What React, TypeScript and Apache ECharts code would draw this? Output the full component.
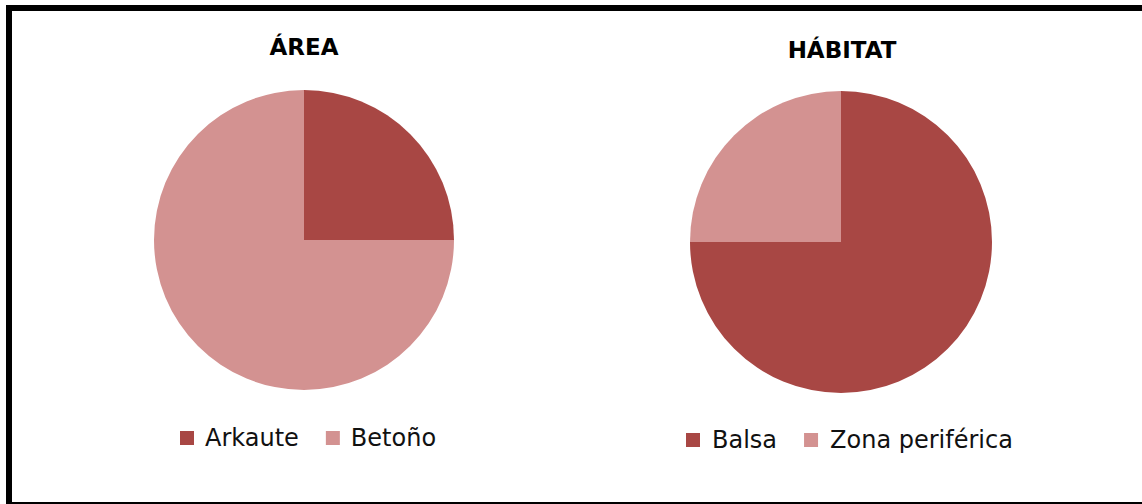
import React, { useEffect, useRef } from "react";
import * as echarts from "echarts";

const areaCategories = ["Arkaute", "Betoño"];
const areaValues = [25, 75];
const habitatCategories = ["Balsa", "Zona periférica"];
const habitatValues = [75, 25];
const titles = ["ÁREA", "HÁBITAT"];
const colors = ["#A84744", "#D39291"];

export default function App() {
  const ref = useRef<HTMLDivElement>(null);
  useEffect(() => {
    document.body.style.margin = "0";
    const chart = echarts.init(ref.current!, null, { renderer: "svg" });
    const font = "'DejaVu Sans', sans-serif";
    const legendText = { fontFamily: font, fontSize: 24, color: "#111", padding: [0, 0, 0, 6] };
    chart.setOption({
      animation: false,
      backgroundColor: "#ffffff",
      title: [
        {
          text: titles[0],
          left: 299,
          top: 30,
          textAlign: "center",
          textStyle: { fontFamily: font, fontWeight: "bold", fontSize: 23, color: "#000" },
        },
        {
          text: titles[1],
          left: 837,
          top: 33,
          textAlign: "center",
          textStyle: { fontFamily: font, fontWeight: "bold", fontSize: 23, color: "#000" },
        },
      ],
      legend: [
        {
          data: areaCategories,
          left: 175,
          top: 421,
          icon: "rect",
          itemWidth: 14,
          itemHeight: 14,
          itemGap: 27,
          textStyle: legendText,
        },
        {
          data: habitatCategories,
          left: 681,
          top: 423,
          icon: "rect",
          itemWidth: 14,
          itemHeight: 14,
          itemGap: 27,
          textStyle: { ...legendText, padding: [0, 0, 0, 7] },
        },
      ],
      series: [
        {
          type: "pie",
          center: [304, 240],
          radius: 150,
          startAngle: 90,
          clockwise: true,
          label: { show: false },
          labelLine: { show: false },
          emphasis: { disabled: true },
          data: areaCategories.map((n, i) => ({ name: n, value: areaValues[i], itemStyle: { color: colors[i] } })),
        },
        {
          type: "pie",
          center: [841, 242],
          radius: 151,
          startAngle: 90,
          clockwise: true,
          label: { show: false },
          labelLine: { show: false },
          emphasis: { disabled: true },
          data: habitatCategories.map((n, i) => ({ name: n, value: habitatValues[i], itemStyle: { color: colors[i] } })),
        },
      ],
    });
    return () => chart.dispose();
  }, []);
  return (
    <div style={{ position: "relative", width: 1142, height: 504, overflow: "hidden", background: "#fff" }}>
      <div ref={ref} style={{ position: "absolute", left: 0, top: 0, width: 1142, height: 504 }} />
      <div
        style={{
          position: "absolute",
          left: 6,
          top: 5,
          width: 1200,
          height: 491,
          borderTop: "6px solid #000",
          borderLeft: "6px solid #000",
          borderBottom: "2px solid #000",
          pointerEvents: "none",
        }}
      />
    </div>
  );
}
